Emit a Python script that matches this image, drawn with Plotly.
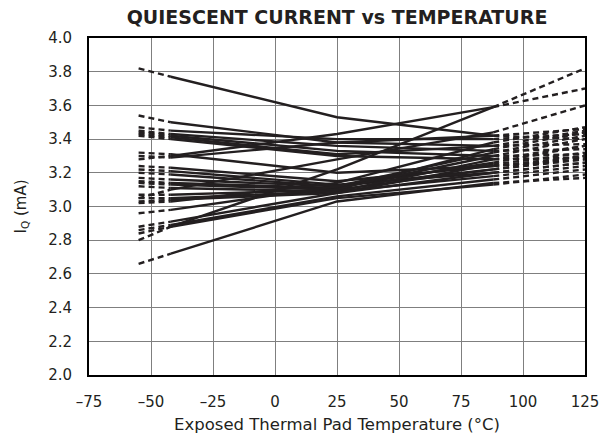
import plotly.graph_objects as go

# Temperatures at which each unit's quiescent current was read (°C)
temps = [-55, -42, 25, 88, 125]
# Solid (characterised) range spans indices 1..3, dashed extrapolation outside
series = [
    [3.82, 3.77, 3.53, 3.42, 3.40],
    [2.66, 2.72, 3.03, 3.14, 3.17],
    [2.80, 2.88, 3.22, 3.59, 3.82],
    [3.28, 3.30, 3.43, 3.59, 3.70],
    [3.05, 3.10, 3.28, 3.44, 3.60],
    [3.54, 3.50, 3.38, 3.36, 3.37],
    [3.47, 3.45, 3.40, 3.40, 3.43],
    [3.45, 3.43, 3.36, 3.33, 3.34],
    [3.44, 3.42, 3.33, 3.30, 3.31],
    [3.43, 3.41, 3.31, 3.36, 3.45],
    [3.42, 3.40, 3.30, 3.28, 3.29],
    [3.32, 3.31, 3.20, 3.24, 3.28],
    [3.30, 3.29, 3.38, 3.42, 3.46],
    [3.24, 3.23, 3.15, 3.24, 3.30],
    [3.22, 3.21, 3.13, 3.20, 3.26],
    [3.20, 3.19, 3.12, 3.22, 3.28],
    [3.17, 3.16, 3.12, 3.26, 3.36],
    [3.15, 3.14, 3.11, 3.30, 3.40],
    [3.14, 3.13, 3.10, 3.22, 3.30],
    [3.12, 3.11, 3.09, 3.18, 3.24],
    [3.07, 3.07, 3.10, 3.34, 3.44],
    [3.05, 3.05, 3.09, 3.28, 3.36],
    [3.03, 3.04, 3.08, 3.25, 3.32],
    [3.02, 3.03, 3.14, 3.38, 3.47],
    [2.96, 2.98, 3.12, 3.32, 3.42],
    [2.88, 2.91, 3.08, 3.20, 3.26],
    [2.86, 2.89, 3.06, 3.16, 3.22],
    [2.84, 2.88, 3.05, 3.13, 3.19],
]

x_ticks = [-75, -50, -25, 0, 25, 50, 75, 100, 125]
x_ticktext = ["\u201375", "\u201350", "\u201325", "0", "25", "50", "75", "100", "125"]
y_ticks = [2.0, 2.2, 2.4, 2.6, 2.8, 3.0, 3.2, 3.4, 3.6, 3.8, 4.0]

LINE = "#231f20"
fig = go.Figure()
for s in series:
    fig.add_trace(go.Scatter(x=temps[0:2], y=s[0:2], mode="lines",
                             line=dict(color=LINE, width=2.4, dash="6px,4px"),
                             showlegend=False, hoverinfo="skip"))
    fig.add_trace(go.Scatter(x=temps[1:4], y=s[1:4], mode="lines",
                             line=dict(color=LINE, width=2.4),
                             showlegend=False, hoverinfo="skip"))
    fig.add_trace(go.Scatter(x=temps[3:5], y=s[3:5], mode="lines",
                             line=dict(color=LINE, width=2.4, dash="6px,4px"),
                             showlegend=False, hoverinfo="skip"))

FONT = "DejaVu Sans, Arial, sans-serif"
fig.update_layout(
    width=603, height=445,
    margin=dict(l=89, r=18, t=38, b=70, autoexpand=False),
    paper_bgcolor="white", plot_bgcolor="white",
    font=dict(family=FONT, size=15, color="#231f20"),
    title=dict(text="<b>QUIESCENT CURRENT vs TEMPERATURE</b>",
               x=(89 + 248) / 603, xanchor="center", y=1 - 17 / 445, yanchor="middle",
               font=dict(family=FONT, size=19, color="#231f20")),
    xaxis=dict(range=[-75, 125], tickvals=x_ticks, ticktext=x_ticktext,
               showgrid=True, gridcolor="#7f7f7f", gridwidth=1,
               showline=True, linecolor="black", linewidth=2, mirror=True,
               zeroline=False, ticks="", ticklabelstandoff=12, automargin=False,
               title=dict(text="Exposed Thermal Pad Temperature (°C)", standoff=8,
                          font=dict(size=16.5))),
    yaxis=dict(range=[2.0, 4.0], tickvals=y_ticks, tickformat=".1f",
               showgrid=True, gridcolor="#7f7f7f", gridwidth=1,
               showline=True, linecolor="black", linewidth=2, mirror=True,
               zeroline=False, ticks="", ticklabelstandoff=12, automargin=False,
               title=dict(text="I<sub>Q</sub> (mA)", standoff=18,
                          font=dict(size=15))),
)

fig.write_html("out.html",
               config={"displayModeBar": False},
               post_script="document.body.style.margin='0';document.body.style.overflow='hidden';")
